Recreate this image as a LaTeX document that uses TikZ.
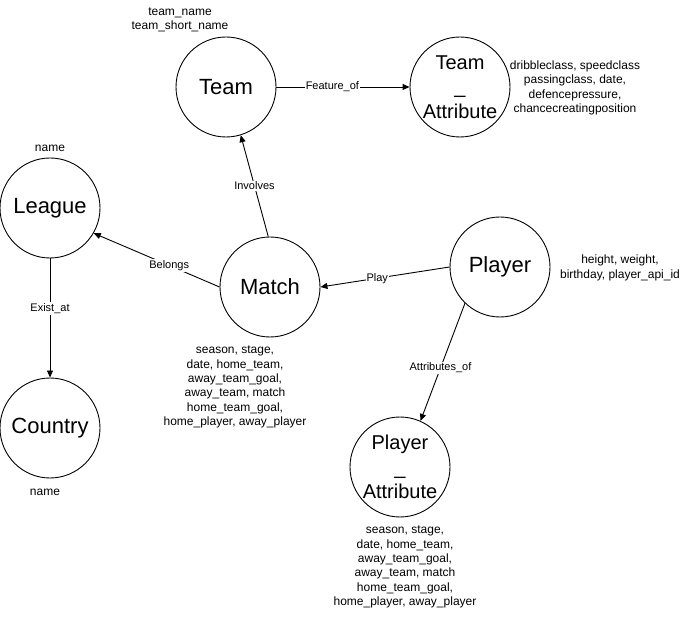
\documentclass[tikz,border=0pt]{standalone}
\usepackage{fontspec}
\setmainfont{Liberation Sans}
\usetikzlibrary{arrows.meta}
\begin{document}
\begin{tikzpicture}[x=1pt,y=-1pt,
 ent/.style={circle,draw,line width=0.9pt,minimum size=100pt,inner sep=0pt,font=\fontsize{22}{25}\selectfont,align=center},
 entm/.style={ent,font=\fontsize{20}{24.5}\selectfont},
 attr/.style={font=\fontsize{12}{14.3}\selectfont,align=center,inner sep=0pt},
 rel/.style={draw,line width=0.9pt,-{Triangle[length=7pt,width=6pt]}},
 lab/.style={font=\fontsize{11}{13}\selectfont,fill=white,inner sep=1pt}]
\useasboundingbox (0,0) rectangle (691,617);
\node[ent] (team) at (226,87) {Team};
\node[entm] (tattr) at (460,87) {Team\\\_\\Attribute};
\node[ent] (league) at (50,208) {League};
\node[ent] (match) at (270,287) {Match};
\node[ent] (player) at (500,267) {Player};
\node[entm] (pattr) at (400,467) {Player\\\_\\Attribute};
\node[ent] (country) at (50,428) {Country};
\node[attr] (teamattrs) at (180,20) {team\_name\\team\_short\_name};
\node[attr] (tattrs) at (575,88) {dribbleclass, speedclass\\passingclass, date,\\defencepressure,\\chancecreatingposition};
\node[attr] (leaguen) at (50,148) {name};
\node[attr] (countryn) at (45,492) {name};
\node[attr] (playerattrs) at (620,268) {height, weight,\\birthday, player\_api\_id};
\node[attr] (matchattrs) at (235,387) {season, stage,\\date, home\_team,\\away\_team\_goal,\\away\_team, match\\home\_team\_goal,\\home\_player, away\_player};
\node[attr] (pattrs) at (405,567) {season, stage,\\date, home\_team,\\away\_team\_goal,\\away\_team, match\\home\_team\_goal,\\home\_player, away\_player};
\draw[rel] (team.east) -- node[lab,pos=0.42]{Feature\_of} (tattr.west);
\draw[rel] (match.92) -- node[lab]{Involves} (team.-73);
\draw[rel] (match.west) -- node[lab,pos=0.4]{Belongs} (league.-30);
\draw[rel] (league.south) -- node[lab,pos=0.42]{Exist\_at} (country.north);
\draw[rel] (player.west) -- node[lab,pos=0.56]{Play} (match.east);
\draw[rel] (player.-134) -- node[lab,pos=0.55]{Attributes\_of} (pattr.66);
\end{tikzpicture}
\end{document}
